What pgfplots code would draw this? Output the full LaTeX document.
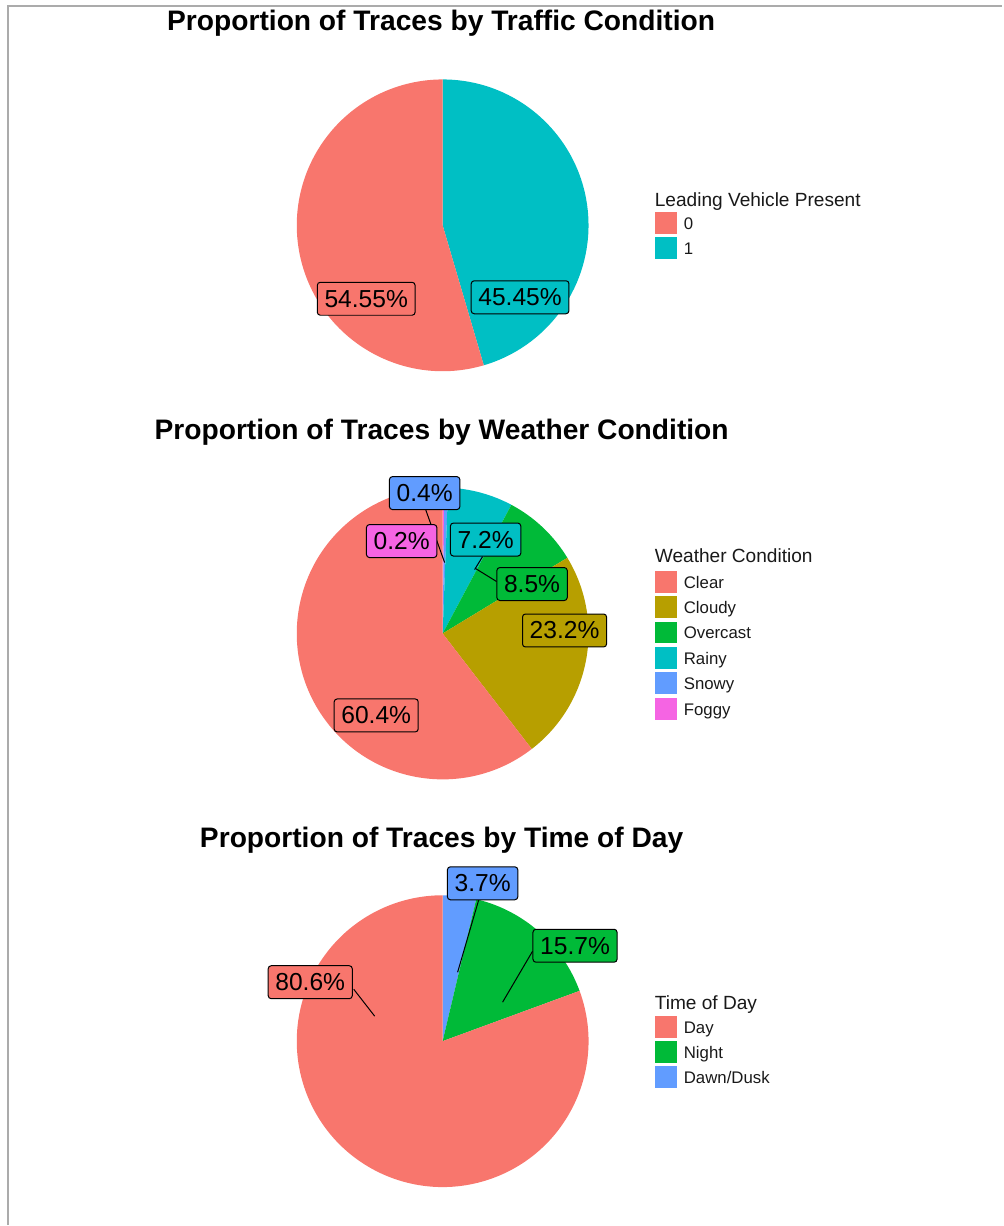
\documentclass[border=0pt]{standalone}
\usepackage{pgfplots}
\usepackage{pgfplotstable}
\pgfplotsset{compat=1.18}
\usepackage{fontspec}
\setmainfont{Liberation Sans}

\definecolor{gR}{HTML}{F8766D}
\definecolor{gT}{HTML}{00BFC4}
\definecolor{gO}{HTML}{B79F00}
\definecolor{gG}{HTML}{00BA38}
\definecolor{gB}{HTML}{619CFF}
\definecolor{gP}{HTML}{F564E3}
\definecolor{framegray}{HTML}{ABABAB}

% slices in drawing order, clockwise from 12 o'clock
\pgfplotstableread{
label value color
1 45.45 gT
0 54.55 gR
}\traffic
\pgfplotstableread{
label value color
Foggy 0.2 gP
Snowy 0.4 gB
Rainy 7.2 gT
Overcast 8.5 gG
Cloudy 23.2 gO
Clear 60.4 gR
}\weather
\pgfplotstableread{
label value color
Dawn/Dusk 3.7 gB
Night 15.7 gG
Day 80.6 gR
}\timeofday

\newcommand\preppie[2]{%
  \pgfplotstablegetrowsof{#1}\xdef\nrows{\pgfplotsretval}%
  \xdef\tot{0}%
  \foreach \i in {1,...,\nrows}{%
    \pgfmathtruncatemacro\r{\i-1}%
    \pgfplotstablegetelem{\r}{value}\of{#1}%
    \pgfmathparse{\tot+\pgfplotsretval}\xdef\tot{\pgfmathresult}%
  }%
  \xdef\cum{0}%
  \foreach \i in {1,...,\nrows}{%
    \pgfmathtruncatemacro\r{\i-1}%
    \pgfplotstablegetelem{\r}{value}\of{#1}%
    \pgfmathsetmacro\st{(\cum/\tot)*360}%
    \pgfmathparse{\cum+\pgfplotsretval}\xdef\cum{\pgfmathresult}%
    \pgfmathsetmacro\en{(\cum/\tot)*360}%
    \expandafter\xdef\csname #2S\i\endcsname{\st}%
    \expandafter\xdef\csname #2E\i\endcsname{\en}%
    \pgfplotstablegetelem{\r}{color}\of{#1}%
    \expandafter\xdef\csname #2C\i\endcsname{\pgfplotsretval}%
  }%
}
\preppie{\traffic}{T}%
\preppie{\weather}{W}%
\preppie{\timeofday}{D}%

% wedge: cx, cy (px, y down), prefix, index
\newcommand\piewedge[4]{%
  \edef\wedgecmd{\noexpand\fill[\csname #3C#4\endcsname] (axis cs:#1,#2) -- ++({90-\csname #3S#4\endcsname}:73pt) arc[start angle={90-\csname #3S#4\endcsname}, end angle={90-\csname #3E#4\endcsname}, radius=73pt] -- cycle;}%
  \wedgecmd}

\newcommand\legfont{\fontsize{8.4pt}{10pt}\selectfont}
\newcommand\legtitlefont{\fontsize{9.55pt}{11pt}\selectfont}
\newcommand\titlefont{\fontsize{14.1pt}{16pt}\selectfont\bfseries}

\newcommand\legkey[3]{%
  \fill[#2] (axis cs:656,#1-11) rectangle (axis cs:678,#1+11);
  \node[anchor=base west, font=\legfont, inner sep=0pt, text=black!90] at (axis cs:684,#1+6.5) {#3};}

\tikzset{lbl/.style={draw=black, line width=0.5pt, rounded corners=1.5pt,
  inner xsep=3.6pt, inner ysep=0pt, minimum height=16.5pt,
  font=\fontsize{12.3pt}{14pt}\selectfont, text=black}}

\begin{document}
\begin{tikzpicture}
\begin{axis}[
  width=501.5pt, height=613pt, scale only axis,
  xmin=0, xmax=1003, ymin=0, ymax=1226, y dir=reverse,
  hide axis, clip=false]
\path (axis cs:0,0) rectangle (axis cs:1003,1226);
\draw[framegray, line width=1pt] (axis cs:8,1226) -- (axis cs:8,6) -- (axis cs:1003,6);

% ---- Pie 1
\node[anchor=base, font=\titlefont] at (axis cs:441.5,31) {Proportion of Traces by Traffic Condition};
\piewedge{443}{225.5}{T}{1}
\piewedge{443}{225.5}{T}{2}
\node[lbl, fill=gR] at (axis cs:366.5,299) {54.55\%};
\node[lbl, fill=gT] at (axis cs:520.5,297.5) {45.45\%};
\node[anchor=base west, font=\legtitlefont, inner sep=0pt, text=black!90] at (axis cs:655,207) {Leading Vehicle Present};
\legkey{223.5}{gR}{0}
\legkey{248.5}{gT}{1}

% ---- Pie 2
\node[anchor=base, font=\titlefont] at (axis cs:442,440) {Proportion of Traces by Weather Condition};
\piewedge{443}{634}{W}{1}
\piewedge{443}{634}{W}{2}
\piewedge{443}{634}{W}{3}
\piewedge{443}{634}{W}{4}
\piewedge{443}{634}{W}{5}
\piewedge{443}{634}{W}{6}
\draw[line width=0.5pt] (axis cs:426,510) -- (axis cs:445,563);
\draw[line width=0.5pt] (axis cs:483,557) -- (axis cs:475,570);
\draw[line width=0.5pt] (axis cs:476,569) -- (axis cs:497,582);
\node[lbl, fill=gB] at (axis cs:425,493.5) {0.4\%};
\node[lbl, fill=gP] at (axis cs:402,541.5) {0.2\%};
\node[lbl, fill=gT] at (axis cs:486,540) {7.2\%};
\node[lbl, fill=gG] at (axis cs:532.5,584.5) {8.5\%};
\node[lbl, fill=gO] at (axis cs:565,631) {23.2\%};
\node[lbl, fill=gR] at (axis cs:376.5,716) {60.4\%};
\node[anchor=base west, font=\legtitlefont, inner sep=0pt, text=black!90] at (axis cs:655,563) {Weather Condition};
\legkey{582}{gR}{Clear}
\legkey{607.5}{gO}{Cloudy}
\legkey{633}{gG}{Overcast}
\legkey{658.5}{gT}{Rainy}
\legkey{684}{gB}{Snowy}
\legkey{709.5}{gP}{Foggy}

% ---- Pie 3
\node[anchor=base, font=\titlefont] at (axis cs:442,848) {Proportion of Traces by Time of Day};
\piewedge{443}{1042}{D}{1}
\piewedge{443}{1042}{D}{2}
\piewedge{443}{1042}{D}{3}
\draw[line width=0.5pt] (axis cs:479,901) -- (axis cs:458,973);
\draw[line width=0.5pt] (axis cs:533,952) -- (axis cs:503,1003);
\draw[line width=0.5pt] (axis cs:354,990) -- (axis cs:375,1017);
\node[lbl, fill=gB] at (axis cs:483,884) {3.7\%};
\node[lbl, fill=gG] at (axis cs:575.5,946.5) {15.7\%};
\node[lbl, fill=gR] at (axis cs:310.5,983) {80.6\%};
\node[anchor=base west, font=\legtitlefont, inner sep=0pt, text=black!90] at (axis cs:655,1010) {Time of Day};
\legkey{1027.5}{gR}{Day}
\legkey{1053}{gG}{Night}
\legkey{1078}{gB}{Dawn/Dusk}
\end{axis}
\end{tikzpicture}
\end{document}
